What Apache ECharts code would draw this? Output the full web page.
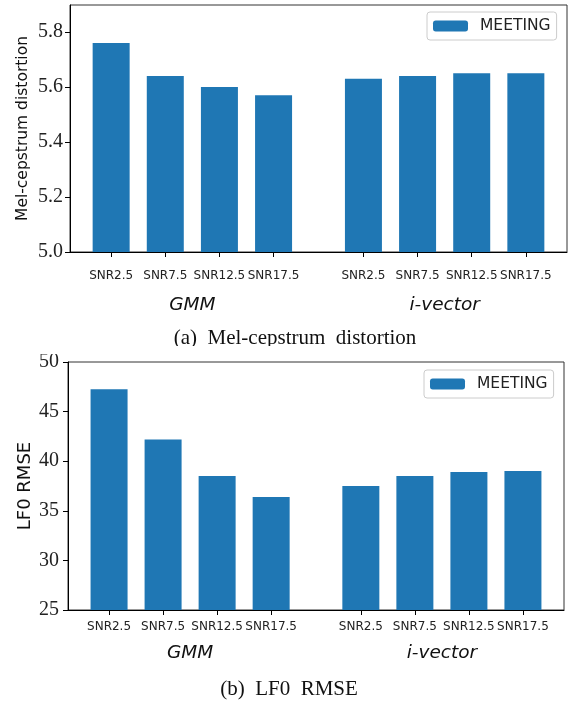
<!DOCTYPE html>
<html>
<head>
<meta charset="utf-8">
<script src="https://cdn.jsdelivr.net/npm/echarts@6/dist/echarts.min.js"></script>
<style>html,body{margin:0;padding:0;background:#fff}#c{width:574px;height:702px}</style>
</head>
<body>
<div id="c"></div>
<script>
// ---- data ----
const categories = ['SNR2.5', 'SNR7.5', 'SNR12.5', 'SNR17.5'];
const groups = ['GMM', 'i-vector'];
const seriesName = 'MEETING';
const mcdGMM = [5.76, 5.64, 5.60, 5.57];
const mcdIvector = [5.63, 5.64, 5.65, 5.65];
const lf0GMM = [47.25, 42.2, 38.5, 36.4];
const lf0Ivector = [37.5, 38.5, 38.9, 39.0];
const mcdTicks = [5.0, 5.2, 5.4, 5.6, 5.8];
const lf0Ticks = [25, 30, 35, 40, 45, 50];
const captions = ['(a)  Mel-cepstrum  distortion', '(b)  LF0  RMSE'];
const yNames = ['Mel-cepstrum distortion', 'LF0 RMSE'];

// ---- layout (slot positions on the x scale) ----
const slotPos = [0, 1, 2, 3, 4.66, 5.66, 6.66, 7.66];
const groupPos = [1.5, 6.16];
const xMin = -0.76, xMax = 8.42;
const labelOf = {};
slotPos.forEach((p, i) => { labelOf[p.toFixed(2)] = categories[i % 4]; });
const groupOf = {};
groupPos.forEach((p, i) => { groupOf[p.toFixed(2)] = groups[i]; });

const barColor = '#1f77b4';
const sans = 'DejaVu Sans';
const serif = 'Liberation Serif';

function tickAxis(gi, margin) {
  return {
    type: 'value', gridIndex: gi, min: xMin, max: xMax, position: 'bottom',
    axisLine: { show: true, onZero: false, lineStyle: { color: '#000', width: 1 } },
    axisTick: { show: true, length: 5, customValues: slotPos, lineStyle: { color: '#000' } },
    axisLabel: { customValues: slotPos, margin: margin, fontFamily: sans, fontSize: 12, color: '#222',
      formatter: v => labelOf[Number(v).toFixed(2)] || '' },
    splitLine: { show: false }
  };
}
function groupAxis(gi, margin) {
  return {
    type: 'value', gridIndex: gi, min: xMin, max: xMax, position: 'bottom',
    axisLine: { show: false }, axisTick: { show: false },
    axisLabel: { customValues: groupPos, margin: margin, fontFamily: sans, fontStyle: 'italic', fontSize: 18.5, color: '#111',
      formatter: v => groupOf[Number(v).toFixed(2)] || '' },
    splitLine: { show: false }
  };
}
function yAxis(gi, min, max, ticks, fmt, name, nameSize, nameGap, margin) {
  return {
    type: 'value', gridIndex: gi, min: min, max: max,
    axisLine: { show: true, onZero: false, lineStyle: { color: '#000', width: 1 } },
    axisTick: { show: true, length: 5, customValues: ticks, lineStyle: { color: '#000' } },
    axisLabel: { customValues: ticks, margin: margin, fontFamily: serif, fontSize: 20, color: '#222', formatter: fmt },
    splitLine: { show: false },
    name: name, nameLocation: 'middle', nameGap: nameGap, nameMoveOverlap: false,
    nameTextStyle: { fontFamily: sans, fontSize: nameSize, color: '#111' }
  };
}
function legend(left, top) {
  return {
    data: [seriesName], left: left, top: top, orient: 'vertical',
    itemWidth: 35, itemHeight: 11, padding: [6, 6, 6, 6],
    borderColor: '#ccc', borderWidth: 1, borderRadius: 3, backgroundColor: '#fff',
    textStyle: { fontFamily: sans, fontSize: 15.5, color: '#222', padding: [0, 3, 0, 7] },
    selectedMode: false
  };
}

const option = {
  animation: false,
  backgroundColor: '#fff',
  grid: [
    { left: 70, top: 5, width: 497, height: 247, show: true, borderColor: '#333', borderWidth: 1 },
    { left: 68, top: 362, width: 496, height: 248, show: true, borderColor: '#333', borderWidth: 1 }
  ],
  xAxis: [tickAxis(0, 18), groupAxis(0, 44), tickAxis(1, 11), groupAxis(1, 34)],
  yAxis: [
    yAxis(0, 5.0, 5.898, mcdTicks, v => Number(v).toFixed(1), yNames[0], 15.5, 39, 7),
    yAxis(1, 25, 50, lf0Ticks, v => String(Math.round(v)), yNames[1], 18, 34, 9)
  ],
  legend: [legend(427, 12), legend(424, 370)],
  title: [
    { text: captions[0], left: 295, top: 328, textAlign: 'center',
      textStyle: { fontFamily: serif, fontWeight: 'normal', fontSize: 21, color: '#111' }, padding: 0 },
    { text: captions[1], left: 289, top: 679, textAlign: 'center',
      textStyle: { fontFamily: serif, fontWeight: 'normal', fontSize: 21, color: '#111' }, padding: 0 }
  ],
  graphic: [
    { type: 'rect', z: 100, shape: { x: 0, y: 346, width: 574, height: 8 }, style: { fill: '#fff' } }
  ],
  series: [
    { type: 'bar', name: seriesName, xAxisIndex: 0, yAxisIndex: 0, barWidth: 37,
      itemStyle: { color: barColor },
      data: mcdGMM.concat(mcdIvector).map((v, i) => [slotPos[i], v]) },
    { type: 'bar', name: seriesName, xAxisIndex: 2, yAxisIndex: 1, barWidth: 37,
      itemStyle: { color: barColor },
      data: lf0GMM.concat(lf0Ivector).map((v, i) => [slotPos[i], v]) }
  ]
};
const chart = echarts.init(document.getElementById('c'), null, { renderer: 'canvas' });
chart.setOption(option);
</script>
</body>
</html>
